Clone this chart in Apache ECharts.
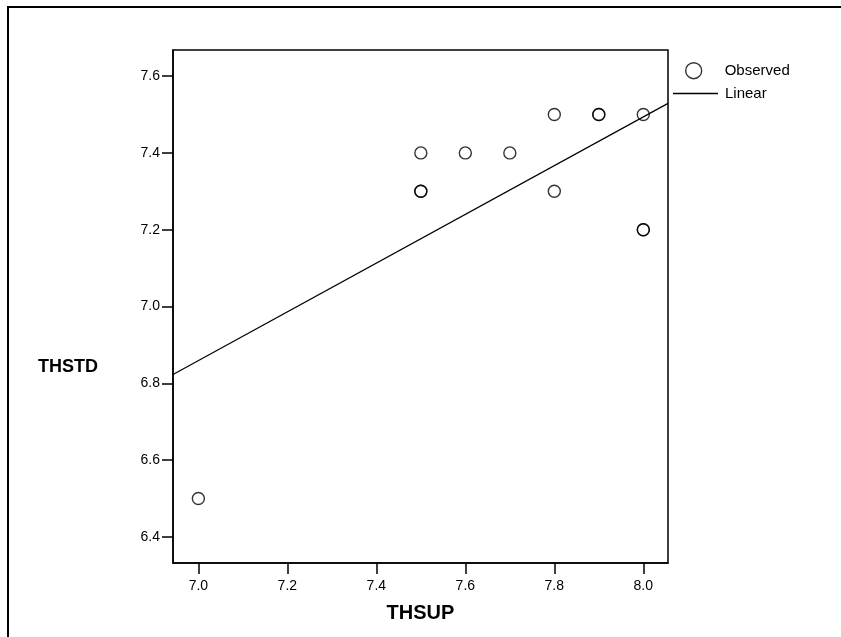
<!DOCTYPE html>
<html>
<head>
<meta charset="utf-8">
<script src="https://cdn.jsdelivr.net/npm/echarts@6/dist/echarts.min.js"></script>
<style>html,body{margin:0;padding:0;background:#fff;}#c{width:841px;height:637px;}</style>
</head>
<body>
<div id="c"></div>
<script>
// Observed points (THSUP, THSTD); duplicates drawn twice
var thsup = [7.0, 7.5, 7.5, 7.5, 7.6, 7.7, 7.8, 7.8, 7.9, 7.9, 8.0, 8.0, 8.0];
var thstd = [6.5, 7.4, 7.3, 7.3, 7.4, 7.4, 7.5, 7.3, 7.5, 7.5, 7.5, 7.2, 7.2];
// Linear fit line endpoints
var linearX = [6.943, 8.0555];
var linearY = [6.823, 7.529];
// Tick labels
var xTicks = [7.0, 7.2, 7.4, 7.6, 7.8, 8.0];
var yTicks = [6.4, 6.6, 6.8, 7.0, 7.2, 7.4, 7.6];
var xName = 'THSUP';
var yName = 'THSTD';
var legendNames = ['Observed', 'Linear'];

var FONT = '"Liberation Sans", Arial, sans-serif';
var chart = echarts.init(document.getElementById('c'), null, {renderer: 'canvas'});

var obs = thsup.map(function (x, i) { return [x, thstd[i]]; });
var lin = linearX.map(function (x, i) { return [x, linearY[i]]; });

chart.setOption({
  backgroundColor: '#fff',
  animation: false,
  textStyle: {fontFamily: FONT, color: '#000'},
  title: {
    text: yName, left: 38, top: 358, padding: 0,
    textStyle: {fontFamily: FONT, fontSize: 18, fontWeight: 'bold', color: '#000'}
  },
  grid: {left: 173, top: 50, width: 495, height: 513, show: true, borderColor: '#000', borderWidth: 1.5, backgroundColor: 'transparent'},
  legend: [{
    data: [{name: legendNames[0], icon: 'circle'}],
    left: 680, top: 57, orient: 'vertical',
    itemWidth: 16, itemHeight: 16,
    itemStyle: {color: '#fff', borderColor: '#000', borderWidth: 1.4},
    textStyle: {fontFamily: FONT, fontSize: 15, color: '#000', padding: [0, 0, 0, 18]},
    selectedMode: false
  }, {
    data: [{name: legendNames[1], icon: 'rect'}],
    left: 668, top: 81, orient: 'vertical',
    itemWidth: 45, itemHeight: 1.3,
    itemStyle: {color: '#000', borderWidth: 0},
    lineStyle: {color: '#000'},
    textStyle: {fontFamily: FONT, fontSize: 15, color: '#000', padding: [0, 0, 0, 2]},
    selectedMode: false
  }],
  xAxis: {
    type: 'value', min: linearX[0], max: linearX[1],
    name: xName, nameLocation: 'middle', nameGap: 40,
    nameTextStyle: {fontFamily: FONT, fontSize: 20, fontWeight: 'bold', color: '#000'},
    axisLine: {show: true, lineStyle: {color: '#000', width: 1.5}},
    axisTick: {show: true, length: 11, lineStyle: {color: '#000', width: 1.5}, customValues: xTicks},
    axisLabel: {show: true, fontFamily: FONT, fontSize: 14, color: '#000', margin: 16, customValues: xTicks,
      formatter: function (v) { return v.toFixed(1); }},
    splitLine: {show: false}
  },
  yAxis: {
    type: 'value', min: 6.332, max: 7.668,
    axisLine: {show: true, lineStyle: {color: '#000', width: 1.5}},
    axisTick: {show: true, length: 11, lineStyle: {color: '#000', width: 1.5}, customValues: yTicks},
    axisLabel: {show: true, fontFamily: FONT, fontSize: 14, color: '#000', margin: 13, customValues: yTicks,
      formatter: function (v) { return v.toFixed(1); }},
    splitLine: {show: false}
  },
  series: [{
    name: legendNames[0], type: 'scatter', data: obs,
    symbol: 'circle', symbolSize: 12,
    itemStyle: {color: 'rgba(255,255,255,0)', borderColor: '#000', borderWidth: 1.4}
  }, {
    name: legendNames[1], type: 'line', data: lin,
    showSymbol: false, symbol: 'none',
    lineStyle: {color: '#000', width: 1.2},
    itemStyle: {color: '#000'}
  }],
  graphic: [
    {type: 'line', shape: {x1: 7, y1: 7, x2: 841, y2: 7}, style: {stroke: '#000', lineWidth: 2}},
    {type: 'line', shape: {x1: 8, y1: 6, x2: 8, y2: 637}, style: {stroke: '#000', lineWidth: 2}}
  ]
});
</script>
</body>
</html>
